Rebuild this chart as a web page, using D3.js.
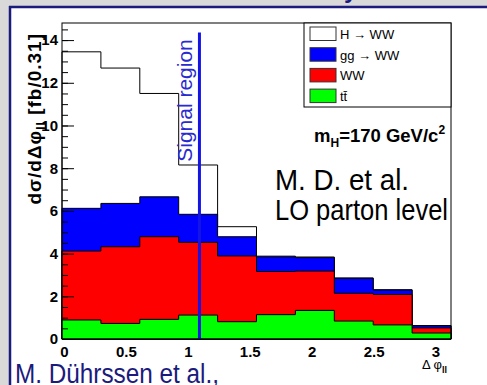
<!DOCTYPE html>
<html><head><meta charset="utf-8">
<script src="https://cdn.jsdelivr.net/npm/d3@7"></script>
<style>
body{margin:0;background:#fff}
svg{display:block}
text{font-family:"Liberation Sans",Arial,Helvetica,sans-serif}
</style>
</head><body>
<svg id="chart" width="487" height="385"></svg>
<script>
// Δφ_ll distribution, stacked signal + backgrounds (10 bins of π/10)
const binLow = [0, 0.3142, 0.6283, 0.9425, 1.2566, 1.5708, 1.8850, 2.1991, 2.5133, 2.8274];
const binHigh = 3.1416;

// per-process contributions, fb / 0.31
const ttbar = [0.89, 0.73, 0.92, 1.12, 0.81, 1.14, 1.34, 0.84, 0.66, 0.28];
const ww    = [3.23, 3.59, 3.87, 3.41, 3.08, 2.02, 1.84, 1.30, 1.43, 0.24];
const ggww  = [2.00, 2.03, 1.87, 1.31, 0.90, 0.69, 0.63, 0.70, 0.20, 0.10];
const hww   = [7.33, 6.34, 4.84, 2.31, 0.47, 0.03, 0.03, 0.02, 0.02, 0.01];

const seriesKeys   = ["tt", "ww", "gg", "h"];
const seriesColors = {tt: "#00ff00", ww: "#ff0000", gg: "#0000ff", h: "#ffffff"};
const legendLabels = ["H \u2192 WW", "gg \u2192 WW", "WW", "tt\u0304"];
const legendKeys   = ["h", "gg", "ww", "tt"];

const yMajorTicks = [0, 2, 4, 6, 8, 10, 12, 14];
const yMinorTicks = d3.range(0, 14.51, 0.5);
const xTicks = [0, 0.5, 1, 1.5, 2, 2.5, 3];
const signalCut = 1.11;
const signalTop = 14.35;

const svg = d3.select("#chart");

// page frame: grey margin with navy rule
svg.append("rect").attr("width", 487).attr("height", 385).attr("fill", "#d9d9d9");
svg.append("rect").attr("x", 10).attr("y", 7).attr("width", 477).attr("height", 378).attr("fill", "#fff");
svg.append("line").attr("x1", 9).attr("x2", 487).attr("y1", 7).attr("y2", 7)
  .attr("stroke", "#1b1b7e").attr("stroke-width", 2.5);
svg.append("line").attr("x1", 10).attr("x2", 10).attr("y1", 6).attr("y2", 385)
  .attr("stroke", "#1b1b7e").attr("stroke-width", 2.5);
svg.append("text").attr("x", 344).attr("y", -2).attr("font-size", 24).attr("font-weight", "bold")
  .attr("fill", "#1b1b7e").text("y");

const x = d3.scaleLinear().domain([0, binHigh]).range([62, 451]);
const y = d3.scaleLinear().domain([0, 14.8]).range([339, 23]);

const rows = binLow.map((lo, i) => ({lo, hi: i < binLow.length - 1 ? binLow[i + 1] : binHigh,
  tt: ttbar[i], ww: ww[i], gg: ggww[i], h: hww[i]}));
const stacked = d3.stack().keys(seriesKeys)(rows);

// x axis (ticks sit under the filled histograms)
svg.append("g").attr("transform", "translate(2,339)")
  .call(d3.axisBottom(x).tickValues(xTicks).tickSizeInner(-10).tickSizeOuter(0).tickPadding(7)
    .tickFormat(d3.format("~g")))
  .call(g => g.select(".domain").remove())
  .call(g => g.selectAll("text").attr("font-size", 15).attr("font-weight", "bold").attr("fill", "#000")
    .style("font-family", "'Liberation Sans',Arial,sans-serif"));

// stacked step histograms, drawn from the cumulative top layer down
const step = layer => {
  let p = `M${x(rows[0].lo)},${y(0)}`;
  layer.forEach((d, i) => {
    p += `L${x(rows[i].lo)},${y(d[1])}L${x(rows[i].hi)},${y(d[1])}`;
  });
  return p + `L${x(binHigh)},${y(0)}Z`;
};
svg.append("g").selectAll("path").data(stacked.slice().reverse()).join("path")
  .attr("d", step)
  .attr("fill", d => seriesColors[d.key])
  .attr("stroke", "#000").attr("stroke-width", 1).attr("stroke-linejoin", "miter");

// signal region marker
svg.append("line").attr("x1", x(signalCut)).attr("x2", x(signalCut))
  .attr("y1", y(signalTop)).attr("y2", y(0))
  .attr("stroke", "#1414e6").attr("stroke-width", 3);
svg.append("text").attr("transform", `translate(${x(signalCut) - 7},${y(8.3)}) rotate(-90)`)
  .attr("font-size", 21).attr("fill", "#2a2ad0").text("Signal region");

// y axis, ticks pointing inward
svg.append("g").attr("transform", "translate(62,0)")
  .call(d3.axisLeft(y).tickValues(yMinorTicks).tickSizeInner(-6).tickSizeOuter(0).tickFormat(""))
  .call(g => g.select(".domain").remove())
  .call(g => g.selectAll("line").attr("stroke", "#000"));
svg.append("g").attr("transform", "translate(62,0)")
  .call(d3.axisLeft(y).tickValues(yMajorTicks).tickSizeInner(-12).tickSizeOuter(0).tickPadding(4))
  .call(g => g.select(".domain").remove())
  .call(g => g.selectAll("line").attr("stroke", "#000"))
  .call(g => g.selectAll("text").attr("font-size", 15).attr("font-weight", "bold").attr("fill", "#000")
    .style("font-family", "'Liberation Sans',Arial,sans-serif"));

// plot frame
svg.append("rect").attr("x", 62).attr("y", 23).attr("width", 389).attr("height", 316)
  .attr("fill", "none").attr("stroke", "#000").attr("stroke-width", 1);

// axis titles
const yt = svg.append("text").attr("transform", "translate(41,33) rotate(-90)")
  .attr("text-anchor", "end").attr("font-size", 19).attr("font-weight", "bold")
  .attr("letter-spacing", 1);
yt.append("tspan").text("d\u03c3/d\u0394\u03c6");
yt.append("tspan").attr("dy", 4).attr("font-size", 12).text("ll");
yt.append("tspan").attr("dy", -4).text(" [fb/0.31]");

const xt = svg.append("text").attr("x", 447).attr("y", 369).attr("text-anchor", "end")
  .attr("font-size", 13);
xt.append("tspan").text("\u0394 \u03c6");
xt.append("tspan").attr("dy", 4).attr("font-size", 9).attr("font-weight", "bold").text("ll");

// legend
const lg = svg.append("g");
lg.append("rect").attr("x", 304).attr("y", 23).attr("width", 147).attr("height", 84)
  .attr("fill", "#fff").attr("stroke", "#000").attr("stroke-width", 1);
legendKeys.forEach((k, i) => {
  const yy = 27 + i * 20.7;
  lg.append("rect").attr("x", 310).attr("y", yy).attr("width", 26).attr("height", 13.5)
    .attr("fill", seriesColors[k]).attr("stroke", "#333").attr("stroke-width", 1);
  lg.append("text").attr("x", 340).attr("y", yy + 12).attr("font-size", 13).text(legendLabels[i]);
});

// annotations
const mh = svg.append("text").attr("x", 314).attr("y", 142).attr("font-size", 18.5).attr("font-weight", "bold");
mh.append("tspan").text("m");
mh.append("tspan").attr("dy", 5).attr("font-size", 12).text("H");
mh.append("tspan").attr("dy", -5).text("=170 GeV/c");
mh.append("tspan").attr("dy", -8).attr("font-size", 12).text("2");

svg.append("text").attr("x", 275).attr("y", 190).attr("font-size", 30)
  .attr("textLength", 134).attr("lengthAdjust", "spacingAndGlyphs").text("M. D. et al.");
svg.append("text").attr("x", 275).attr("y", 220).attr("font-size", 30)
  .attr("textLength", 173).attr("lengthAdjust", "spacingAndGlyphs").text("LO parton level");

svg.append("text").attr("x", 15).attr("y", 383).attr("font-size", 27).attr("fill", "#1b1b7e")
  .attr("textLength", 204).attr("lengthAdjust", "spacingAndGlyphs").text("M. D\u00fchrssen et al.,");
</script>
</body></html>
